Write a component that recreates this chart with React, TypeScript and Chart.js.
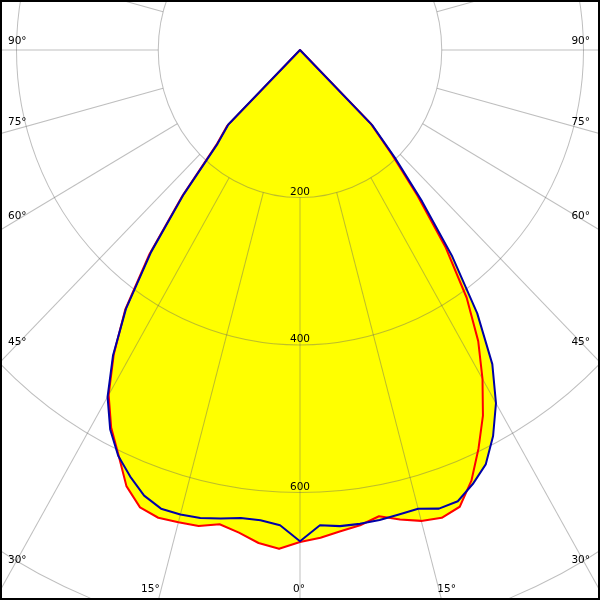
import { useEffect, useRef } from "react";
import { Chart, registerables } from "chart.js";

Chart.register(...registerables);

// Gamma angles (degrees) for each half-plane, 0 = straight down, 180 = straight up
const gammaDeg = [
  0, 2.5, 5, 7.5, 10, 12.5, 15, 17.5, 20, 22.5, 25, 27.5, 30, 32.5, 35, 37.5, 40, 42.5, 45,
  47.5, 50, 52.5, 55, 57.5, 60, 62.5, 65, 67.5,
  70, 72.5, 75, 77.5, 80, 82.5, 85, 87.5, 90,
  92.5, 95, 97.5, 100, 102.5, 105, 107.5, 110, 112.5,
  115, 117.5, 120, 122.5, 125, 127.5, 130, 132.5, 135,
  137.5, 140, 142.5, 145, 147.5, 150, 152.5, 155, 157.5,
  160, 162.5, 165, 167.5, 170, 172.5, 175, 177.5, 180,
];

// Blue curve (C90-C270), left half and right half, cd/klm
const blueLeft = [
  666, 645, 640, 640, 645, 650, 652, 652, 643, 626, 607, 580, 543, 491, 428, 345, 255, 172, 143,
  0, 0, 0, 0, 0, 0, 0, 0, 0,
  0, 0, 0, 0, 0, 0, 0, 0, 0,
  0, 0, 0, 0, 0, 0, 0, 0, 0,
  0, 0, 0, 0, 0, 0, 0, 0, 0,
  0, 0, 0, 0, 0, 0, 0, 0, 0,
  0, 0, 0, 0, 0, 0, 0, 0, 0,
];
const blueRight = [
  666, 645, 648, 648, 647, 645, 644, 652, 651, 637, 620, 590, 553, 505, 436, 353, 268, 198, 144,
  0, 0, 0, 0, 0, 0, 0, 0, 0,
  0, 0, 0, 0, 0, 0, 0, 0, 0,
  0, 0, 0, 0, 0, 0, 0, 0, 0,
  0, 0, 0, 0, 0, 0, 0, 0, 0,
  0, 0, 0, 0, 0, 0, 0, 0, 0,
  0, 0, 0, 0, 0, 0, 0, 0, 0,
];
// Red curve (C0-C180), left half and right half
const redLeft = [
  667, 677, 671, 660, 653, 661, 663, 665, 660, 640, 606, 577, 540, 489, 430, 349, 258, 175, 145,
  0, 0, 0, 0, 0, 0, 0, 0, 0,
  0, 0, 0, 0, 0, 0, 0, 0, 0,
  0, 0, 0, 0, 0, 0, 0, 0, 0,
  0, 0, 0, 0, 0, 0, 0, 0, 0,
  0, 0, 0, 0, 0, 0, 0, 0, 0,
  0, 0, 0, 0, 0, 0, 0, 0, 0,
];
const redRight = [
  667, 662, 655, 650, 642, 652, 661, 665, 659, 632, 596, 559, 515, 468, 410, 338, 258, 192, 142,
  0, 0, 0, 0, 0, 0, 0, 0, 0,
  0, 0, 0, 0, 0, 0, 0, 0, 0,
  0, 0, 0, 0, 0, 0, 0, 0, 0,
  0, 0, 0, 0, 0, 0, 0, 0, 0,
  0, 0, 0, 0, 0, 0, 0, 0, 0,
  0, 0, 0, 0, 0, 0, 0, 0, 0,
];

const ringValues = [200, 400, 600, 800];
const tickLabelValues = [200, 400, 600];
const angleLabelValues = [0, 15, 30, 45, 60, 75, 90];

// Full loop: bottom -> left -> top -> right -> back to bottom
const loopGamma = [...gammaDeg, ...gammaDeg.slice(1, -1).reverse()];
const loopLabels = loopGamma.map((g) => `${g}°`);
const toLoop = (left: number[], right: number[]) => [...left, ...right.slice(1, -1).reverse()];

// Layout constants
const K = 1.0406; // vertical stretch of the diagram
const CANVAS_W = 1134;
const CANVAS_H = 1200;
const OFF_X = -267;
const OFF_Y = -540;
const GRID_COLOR = "rgba(100,100,100,0.42)";
const FONT = "10.5px 'DejaVu Sans', sans-serif";

const polarDecor = {
  id: "polarDecor",
  beforeDraw(chart: any) {
    const ctx = chart.ctx;
    ctx.save();
    ctx.scale(1, K);
  },
  beforeDatasetsDraw(chart: any) {
    const s = chart.scales.r;
    const ctx = chart.ctx;
    ctx.save();
    ctx.strokeStyle = GRID_COLOR;
    ctx.lineWidth = 1;
    for (const v of ringValues) {
      ctx.beginPath();
      ctx.arc(s.xCenter, s.yCenter, s.getDistanceFromCenterForValue(v), 0, Math.PI * 2);
      ctx.stroke();
    }
    for (let i = 0; i < loopGamma.length; i++) {
      if (loopGamma[i] % 15 !== 0) continue;
      const a = s.getPointPositionForValue(i, ringValues[0]);
      const b = s.getPointPositionForValue(i, 1500);
      ctx.beginPath();
      ctx.moveTo(a.x, a.y);
      ctx.lineTo(b.x, b.y);
      ctx.stroke();
    }
    ctx.restore();
  },
  afterDraw(chart: any) {
    const ctx = chart.ctx;
    ctx.restore();
    const s = chart.scales.r;
    const toScreen = (p: { x: number; y: number }) => ({ x: p.x + OFF_X, y: p.y * K + OFF_Y });
    const put = (t: string, x: number, y: number) => ctx.fillText(t, x - OFF_X, y - OFF_Y);
    ctx.save();
    ctx.font = FONT;
    ctx.fillStyle = "#000";
    ctx.textBaseline = "middle";

    // radial value labels along the 0° direction
    ctx.textAlign = "center";
    for (const v of tickLabelValues) {
      const p = toScreen(s.getPointPositionForValue(0, v));
      put(String(v), p.x, p.y - 5.5);
    }

    // angle labels at the frame edges
    const c = toScreen({ x: s.xCenter, y: s.yCenter });
    const n = loopGamma.length;
    const bottomY = 589;
    for (const g of angleLabelValues) {
      const li = gammaDeg.indexOf(g);
      const sides = g === 0 ? [0] : [-1, 1];
      for (const side of sides) {
        const idx = side > 0 ? n - li : li;
        const p = toScreen(s.getPointPositionForValue(idx, 800));
        const dx = p.x - c.x;
        const dy = p.y - c.y;
        const text = `${g}°`;
        if (g === 0) {
          ctx.textAlign = "center";
          put(text, c.x - 1, bottomY);
          continue;
        }
        const edgeX = side < 0 ? 18 : 582;
        const ys = c.y + ((edgeX - c.x) / dx) * dy;
        if (ys <= 575) {
          ctx.textAlign = side < 0 ? "left" : "right";
          put(text, side < 0 ? 8 : 590, ys - 9 + (11 * (90 - g)) / 60);
        } else {
          const xb = c.x + ((bottomY - c.y) / dy) * dx;
          ctx.textAlign = side < 0 ? "right" : "left";
          put(text, xb - 1.5, bottomY);
        }
      }
    }
    ctx.restore();
  },
};

export default function App() {
  const ref = useRef<HTMLCanvasElement>(null);
  useEffect(() => {
    document.body.style.margin = "0";
    const chart = new Chart(ref.current as HTMLCanvasElement, {
      type: "radar",
      data: {
        labels: loopLabels,
        datasets: [
          {
            label: "C90 - C270",
            data: toLoop(blueLeft, blueRight),
            borderColor: "#0000a8",
            backgroundColor: "#ffff00",
            borderWidth: 2,
            fill: "start",
            pointRadius: 0,
            tension: 0,
            borderJoinStyle: "round",
          },
          {
            label: "C0 - C180",
            data: toLoop(redLeft, redRight),
            borderColor: "#ff0000",
            backgroundColor: "#ffff00",
            borderWidth: 2,
            fill: "start",
            pointRadius: 0,
            tension: 0,
            borderJoinStyle: "round",
          },
        ],
      },
      options: {
        responsive: false,
        animation: false,
        devicePixelRatio: 1,
        events: [],
        layout: { padding: { left: 0, right: 0, top: 0, bottom: CANVAS_H - CANVAS_W } },
        plugins: {
          legend: { display: false },
          tooltip: { enabled: false },
          filler: { drawTime: "beforeDatasetsDraw" },
        },
        scales: {
          r: {
            min: 0,
            max: 800,
            startAngle: 180,
            ticks: { display: false, stepSize: 200 },
            grid: { display: false },
            angleLines: { display: false },
            pointLabels: { display: false },
          },
        },
      },
      plugins: [polarDecor],
    } as any);
    return () => chart.destroy();
  }, []);

  return (
    <div
      style={{
        position: "fixed",
        left: 0,
        top: 0,
        width: 600,
        height: 600,
        overflow: "hidden",
        background: "#fff",
      }}
    >
      <canvas
        ref={ref}
        width={CANVAS_W}
        height={CANVAS_H}
        style={{ position: "absolute", left: OFF_X, top: OFF_Y, width: CANVAS_W, height: CANVAS_H }}
      />
      <div
        style={{
          position: "absolute",
          left: 0,
          top: 0,
          width: 600,
          height: 600,
          border: "2px solid #000",
          boxSizing: "border-box",
          pointerEvents: "none",
        }}
      />
    </div>
  );
}
